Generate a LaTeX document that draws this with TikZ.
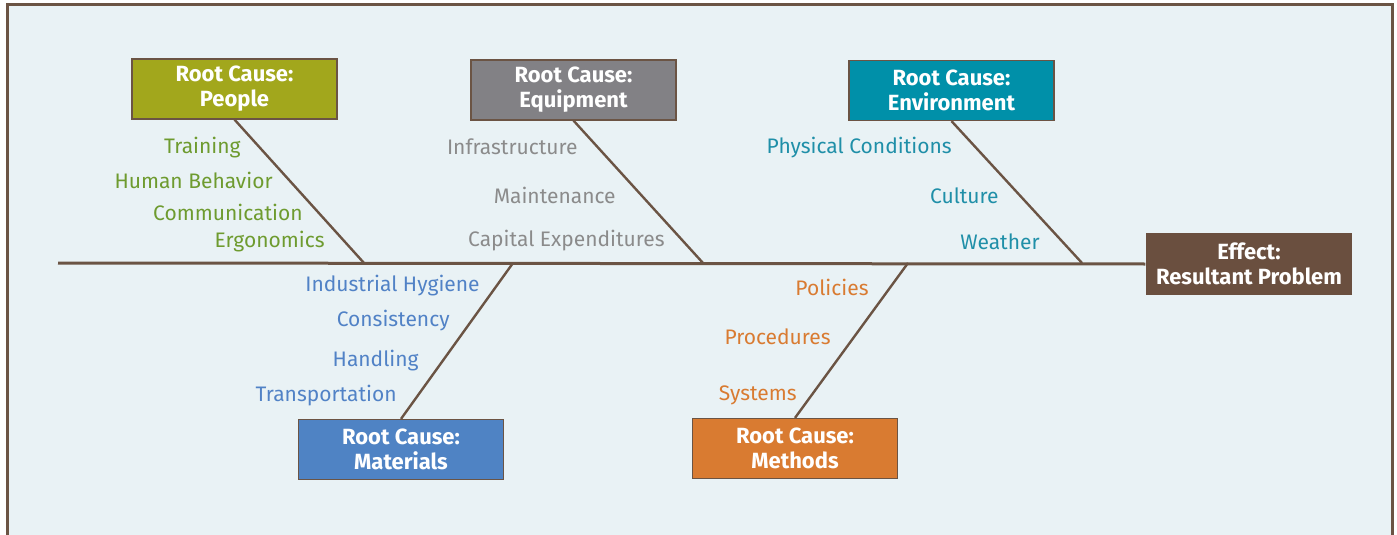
\documentclass[tikz,border=0pt]{standalone}
\usepackage{fontspec}
\setmainfont{Fira Sans}
\usetikzlibrary{arrows.meta}

\definecolor{bgblue}{HTML}{E9F2F5}
\definecolor{bonebrown}{HTML}{6B5444}
\definecolor{effectbrown}{HTML}{6A4F3F}
\definecolor{peopleolive}{HTML}{A2A71C}
\definecolor{peoplegreen}{HTML}{6E9B2F}
\definecolor{equipgray}{HTML}{828185}
\definecolor{equiptext}{HTML}{8B8B8B}
\definecolor{envteal}{HTML}{0090A9}
\definecolor{envtext}{HTML}{1F8FA8}
\definecolor{matblue}{HTML}{4F83C4}
\definecolor{mattext}{HTML}{5182C6}
\definecolor{methorange}{HTML}{D97B31}

\tikzset{
  causebox/.style={draw=bonebrown, line width=0.6pt, fill=#1, text=white,
    font=\fontsize{11}{12.5}\selectfont\bfseries, align=center,
    minimum width=102.5pt, minimum height=30pt, inner sep=0pt},
  effectbox/.style={causebox=effectbrown, draw=none, minimum width=103pt, minimum height=31pt},
  bone/.style={draw=bonebrown, line width=1.2pt},
  spine/.style={draw=bonebrown, line width=1.5pt},
  item/.style={text=#1, anchor=east, inner sep=0pt,
    font=\fontsize{10.5}{12.6}\selectfont}
}

\begin{document}
\begin{tikzpicture}[x=0.5pt, y=-0.5pt]
    \useasboundingbox (0,0) rectangle (1397,535);
    % frame
    \fill[bgblue] (7,5) rectangle (1392,540);
    \draw[bonebrown, line width=1.5pt] (7,540) -- (7,5) -- (1392,5) -- (1392,540);

    % cause boxes
    \node[causebox=peopleolive] (people) at (234.5,89) {Root Cause:\\People};
    \node[causebox=equipgray] (equip) at (573.5,90) {Root Cause:\\Equipment};
    \node[causebox=envteal] (env) at (951.5,90.5) {Root Cause:\\Environment};
    \node[causebox=matblue] (mat) at (401,449.5) {Root Cause:\\Materials};
    \node[causebox=methorange] (meth) at (795,448.5) {Root Cause:\\Methods};
    \node[effectbox] (effect) at (1249,264) {Effect:\\Resultant Problem};

    % points on the spine
    \coordinate (tail) at (58,263);
    \coordinate (p1) at (364,263);
    \coordinate (p2) at (513,263);
    \coordinate (p3) at (703,263);
    \coordinate (p4) at (908,263);
    \coordinate (p5) at (1082,263);

    \path [spine] (tail) edge (effect.west);
    \path [bone] (people.south) edge (p1);
    \path [bone] (equip.south) edge (p3);
    \path [bone] (env.south) edge (p5);
    \path [bone] (mat.north) edge (p2);
    \path [bone] (meth.north) edge (p4);

    % people
    \node[item=peoplegreen] (training) at (241,148) {Training};
    \node[item=peoplegreen] (behavior) at (273,180) {Human Behavior};
    \node[item=peoplegreen] (comm) at (303,212) {Communication};
    \node[item=peoplegreen] (ergo) at (325,242) {Ergonomics};

    % equipment
    \node[item=equiptext] (infra) at (578,147) {Infrastructure};
    \node[item=equiptext] (maint) at (616,195) {Maintenance};
    \node[item=equiptext] (capex) at (665,241) {Capital Expenditures};

    % environment
    \node[item=envtext] (physical) at (952,148) {Physical Conditions};
    \node[item=envtext] (culture) at (999,196) {Culture};
    \node[item=envtext] (weather) at (1040,242) {Weather};

    % materials
    \node[item=mattext] (hygiene) at (480,286) {Industrial Hygiene};
    \node[item=mattext] (consist) at (450,321) {Consistency};
    \node[item=mattext] (handling) at (419,361) {Handling};
    \node[item=mattext] (transport) at (397,396) {Transportation};

    % methods
    \node[item=methorange] (policies) at (869,287) {Policies};
    \node[item=methorange] (procedures) at (831,337) {Procedures};
    \node[item=methorange] (systems) at (797,395) {Systems};
\end{tikzpicture}
\end{document}
